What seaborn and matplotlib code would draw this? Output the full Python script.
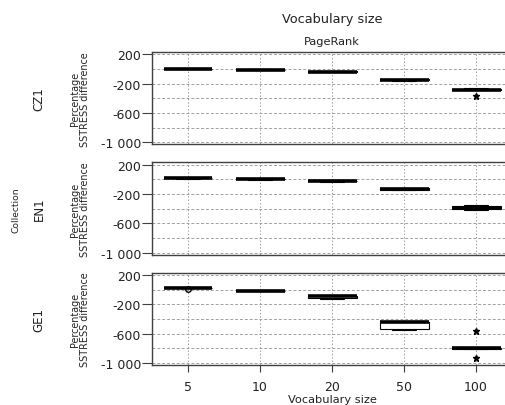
import numpy as np
import pandas as pd
import matplotlib
matplotlib.use("Agg")
import matplotlib.pyplot as plt
from matplotlib.ticker import FuncFormatter
import seaborn as sns

# Values (percentage SSTRESS difference per run)
vocab_sizes = ["5", "10", "20", "50", "100"]
collections = ["CZ1", "EN1", "GE1"]

cz1_values = [
    [-6, -2, 0, 3, 8],
    [-16, -12, -10, -8, -4],
    [-42, -38, -35, -32, -28],
    [-160, -155, -152, -142, -138],
    [-285, -283, -280, -270, -262, -365],
]
en1_values = [
    [10, 14, 17, 20, 24],
    [-6, -2, 0, 2, 6],
    [-32, -28, -25, -22, -18],
    [-145, -140, -132, -122, -118],
    [-418, -410, -393, -358, -352],
]
ge1_values = [
    [20, 21, 22, 23, 24, 10],
    [-20, -17, -15, -13, -10],
    [-127, -110, -92, -88, -85],
    [-545, -535, -445, -440, -438],
    [-810, -806, -803, -800, -797, -570, -940],
]

y_major = [200, -200, -600, -1000]
y_minor = [0, -400, -800]

rows = []
for coll, groups in zip(collections, [cz1_values, en1_values, ge1_values]):
    for vs, vals in zip(vocab_sizes, groups):
        for v in vals:
            rows.append({"collection": coll, "vocab": vs, "value": v})
df = pd.DataFrame(rows)

sns.set_style("white")
plt.rcParams["font.family"] = ["DejaVu Sans"]

fig, axes = plt.subplots(3, 1, figsize=(5.05, 4.06), dpi=100, sharex=True)
fig.subplots_adjust(left=0.301, right=1.014, top=0.869, bottom=0.0985, hspace=0.196)

spine_col = "#404040"
txt_col = "#222222"
fmt = FuncFormatter(lambda v, _: f"{int(v):,}".replace(",", " "))

for ax, coll in zip(axes, collections):
    sub = df[df["collection"] == coll]
    sns.boxplot(
        data=sub, x="vocab", y="value", order=vocab_sizes, ax=ax,
        color="white", linecolor="black", width=0.68, linewidth=0.8,
        whis=1.5,
        medianprops=dict(linewidth=2.6, color="black"),
        flierprops=dict(marker="*", markersize=5, markerfacecolor="black",
                        markeredgecolor="black"),
    )
    # SPSS marks mild outliers with a circle
    if coll == "GE1":
        for ln in ax.lines:
            xd = np.asarray(ln.get_xdata())
            if ln.get_linestyle() == "None" and len(xd) and np.allclose(xd, 0):
                ln.set_marker("o")
                ln.set_markerfacecolor("none")
                ln.set_markersize(4)

    ax.set_xlim(-0.5, 4.5)
    ax.set_ylim(-1030, 230)
    ax.set_yticks(y_major)
    ax.set_yticks(y_minor, minor=True)
    ax.yaxis.set_major_formatter(fmt)
    ax.set_axisbelow(True)
    ax.grid(axis="y", which="both", linestyle=(0, (3, 2)), color="#a0a0a0", linewidth=0.7)
    ax.grid(axis="x", which="major", linestyle=(0, (1.5, 2)), color="#a0a0a0", linewidth=0.7)
    ax.tick_params(axis="y", which="major", direction="out", length=7, width=0.8,
                   color=spine_col, labelsize=9, labelcolor=txt_col, left=True, pad=1)
    ax.tick_params(axis="y", which="minor", length=0)
    ax.tick_params(axis="x", direction="out", length=5, width=0.8, color=spine_col,
                   labelsize=9, labelcolor=txt_col, bottom=True, pad=6)
    ax.set_xlabel("")
    ax.set_ylabel("")
    for s in ax.spines.values():
        s.set_color(spine_col)
        s.set_linewidth(1.0)

    # row labels
    pos = ax.get_position()
    yc = (pos.y0 + pos.y1) / 2
    fig.text(39 / 505, yc, coll, rotation=90, ha="center", va="center", fontsize=8.5, color=txt_col)
    fig.text(80 / 505, yc, "Percentage\nSSTRESS difference", rotation=90, ha="center",
             va="center", fontsize=6.9, linespacing=1.0, color=txt_col)

for ax in axes[:-1]:
    ax.tick_params(axis="x", bottom=False, labelbottom=False)

axes[-1].set_xlabel("Vocabulary size", fontsize=8.2, color=txt_col, labelpad=0.5)

fig.text(332 / 505, 1 - 20 / 406, "Vocabulary size", ha="center", va="center", fontsize=9.3, color=txt_col)
fig.text(332 / 505, 1 - 42 / 406, "PageRank", ha="center", va="center", fontsize=8.2, color=txt_col)
fig.text(16 / 505, 1 - 210 / 406, "Collection", rotation=90, ha="center", va="center", fontsize=6.6, color=txt_col)

fig.savefig("out.png", dpi=100)
